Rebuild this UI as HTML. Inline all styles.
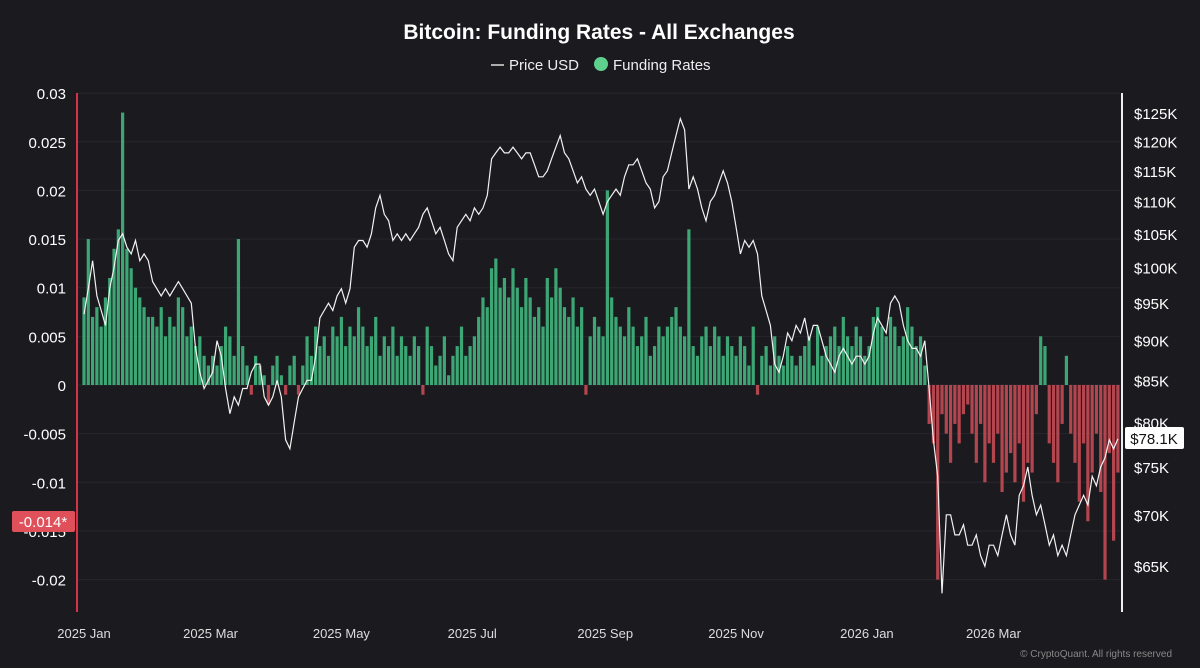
<!DOCTYPE html>
<html><head><meta charset="utf-8"><style>
body{margin:0;background:#1b1b1f;width:1200px;height:663px;overflow:hidden;font-family:"Liberation Sans",sans-serif}
svg text{font-family:"Liberation Sans",sans-serif}
</style></head><body>
<svg id="c" width="1200" height="663">
<text x="599" y="39" fill="#fff" font-size="21" font-weight="bold" text-anchor="middle">Bitcoin: Funding Rates - All Exchanges</text>
<g>
<line x1="491" y1="65" x2="504" y2="65" stroke="#ddd" stroke-width="1.5"/>
<text x="509" y="70" fill="#eee" font-size="15">Price USD</text>
<circle cx="601" cy="64" r="7" fill="#5fcf8e"/>
<text x="613" y="70" fill="#eee" font-size="15">Funding Rates</text>
</g>
<g id="grid"></g><g id="bars"></g><g id="line"></g><g id="axes"></g>
<text x="1172" y="657" fill="#888" font-size="10" text-anchor="end">© CryptoQuant. All rights reserved</text>
</svg>
<script>
const priceK=[93.5,97,101,96,94,92,97,100,104,105,103,102,104,101,102,101,
98,97,96,97,96,97,98,97,96,95,89,86,84,85,
86,90,88,84,81,83,82,84,84,86,87,87,83,82,83,
85,83,78,77,80,83,84,85,85,88,93,94,95,94,96,
97,95,97,103,104,104,103,105,109,111,108,107,104,105,104,105,
104,105,106,108,109,107,105,106,104,102,101,106,107,108,107,
109,108,109,111,117,118,119,118,118,119,118,117,118,118,116,
114,114,115,117,119,121,118,117,115,113,114,112,111,112,110,108,
110,111,112,111,114,116,116,117,115,113,112,109,110,114,115,
118,121,124,122,112,114,112,109,107,110,111,113,115,113,110,
106,102,104,103,104,102,96,94,92,87,86,88,91,90,92,
91,93,90,92,92,90,88,87,86,88,89,88,87,88,88,87,
88,91,93,92,91,95,96,95,92,90,89,89,88,90,84,
78,74,62.5,70,70,68,68,69,67,67,68,66,65,67,
67,66,68,70,68,67,72,73,75,72,70,71,69,67,68,
66,67,66,68,70,71,72,71,74,73,75,76,78,77,78.1];
const fundingMilli=[9,15,7,8,6,9,11,14,16,28,14,12,10,9,8,7,
7,6,8,5,7,6,9,8,5,6,4,5,3,2,
3,2,4,6,5,3,15,4,2,-1,3,2,1,-2,2,
3,1,-1,2,3,-1,2,5,3,6,4,5,3,6,5,
7,4,6,5,8,6,4,5,7,3,5,4,6,3,5,4,
3,5,4,-1,6,4,2,3,5,1,3,4,6,3,4,
5,7,9,8,12,13,10,11,9,12,10,8,11,9,7,
8,6,11,9,12,10,8,7,9,6,8,-1,5,7,6,5,
20,9,7,6,5,8,6,4,5,7,3,4,6,5,6,
7,8,6,5,16,4,3,5,6,4,6,5,3,5,4,
3,5,4,2,6,-1,3,4,2,5,3,2,4,3,2,
3,4,5,2,6,3,4,5,6,4,7,5,4,6,5,3,
4,7,8,6,5,7,6,4,5,8,6,4,5,2,-4,
-6,-20,-3,-5,-8,-4,-6,-3,-2,-5,-8,-4,-10,-6,
-8,-5,-11,-9,-7,-10,-6,-12,-8,-9,-3,5,4,-6,-8,
-10,-4,3,-5,-8,-12,-6,-14,-9,-5,-11,-20,-7,-16,-9];
const leftTicks=[0.03,0.025,0.02,0.015,0.01,0.005,0,-0.005,-0.01,-0.015,-0.02];
const rightTicks=[125,120,115,110,105,100,95,90,85,80,75,70,65];
const xLabels=["2025 Jan","2025 Mar","2025 May","2025 Jul","2025 Sep","2025 Nov","2026 Jan","2026 Mar"];
const xLabelDays=[0,59,120,181,243,304,365,424];
const NS="http://www.w3.org/2000/svg";
const xOf=d=>84+d*2.145;
const yF=v=>385-v*9730;
const yP=k=>113+693*Math.log(125/k);
function mk(t,a,p){const e=document.createElementNS(NS,t);for(const k in a)e.setAttribute(k,a[k]);p.appendChild(e);return e;}
const G=document.getElementById('grid'),B=document.getElementById('bars'),L=document.getElementById('line'),A=document.getElementById('axes');
leftTicks.forEach(v=>{
 const g=mk('line',{x1:78,x2:1120,y1:yF(v),y2:yF(v),stroke:'#26262c','stroke-width':1},G);
 
 
 const t=mk('text',{x:66,y:yF(v)+6,fill:'#fff','font-size':15,'text-anchor':'end'},A);t.textContent=String(v);
 
 
});
rightTicks.forEach(k=>{
 const t=mk('text',{x:1134,y:yP(k)+6,fill:'#fff','font-size':15},A);t.textContent='$'+k+'K';
 
 
});
xLabels.forEach((s,i)=>{
 const t=mk('text',{x:xOf(xLabelDays[i]),y:638,fill:'#ddd','font-size':13,'text-anchor':'middle'},A);t.textContent=s;
 
 
});
fundingMilli.forEach((m,i)=>{
 const v=m/1000,x=xOf(i*2),y0=yF(0),y1=yF(v);
 const r=mk('rect',{x:x-1.6,width:3.2,y:Math.min(y0,y1),height:Math.abs(y1-y0),fill:v>=0?'#45c98a':'#d9505a',opacity:0.8},B);
 
 
});
const pts=priceK.map((k,i)=>xOf(i*2).toFixed(1)+','+yP(k).toFixed(1)).join(' ');
const pl=mk('polyline',{points:pts,fill:'none',stroke:'#f2f2f2','stroke-width':1.2},L);


const la=mk('line',{x1:77,x2:77,y1:93,y2:612,stroke:'#d6334a','stroke-width':2},A);


const ra=mk('line',{x1:1122,x2:1122,y1:93,y2:612,stroke:'#eee','stroke-width':2},A);


const lb=mk('rect',{x:12,y:511,width:63,height:21,fill:'#e0505a',rx:2},A);


const lt=mk('text',{x:43,y:527,fill:'#fff','font-size':15,'text-anchor':'middle'},A);lt.textContent='-0.014*';


const pb=mk('rect',{x:1125,y:427,width:59,height:22,fill:'#fff',rx:2},A);


const pt=mk('text',{x:1154,y:444,fill:'#111','font-size':15,'text-anchor':'middle'},A);pt.textContent='$78.1K';


</script>
</body></html>
